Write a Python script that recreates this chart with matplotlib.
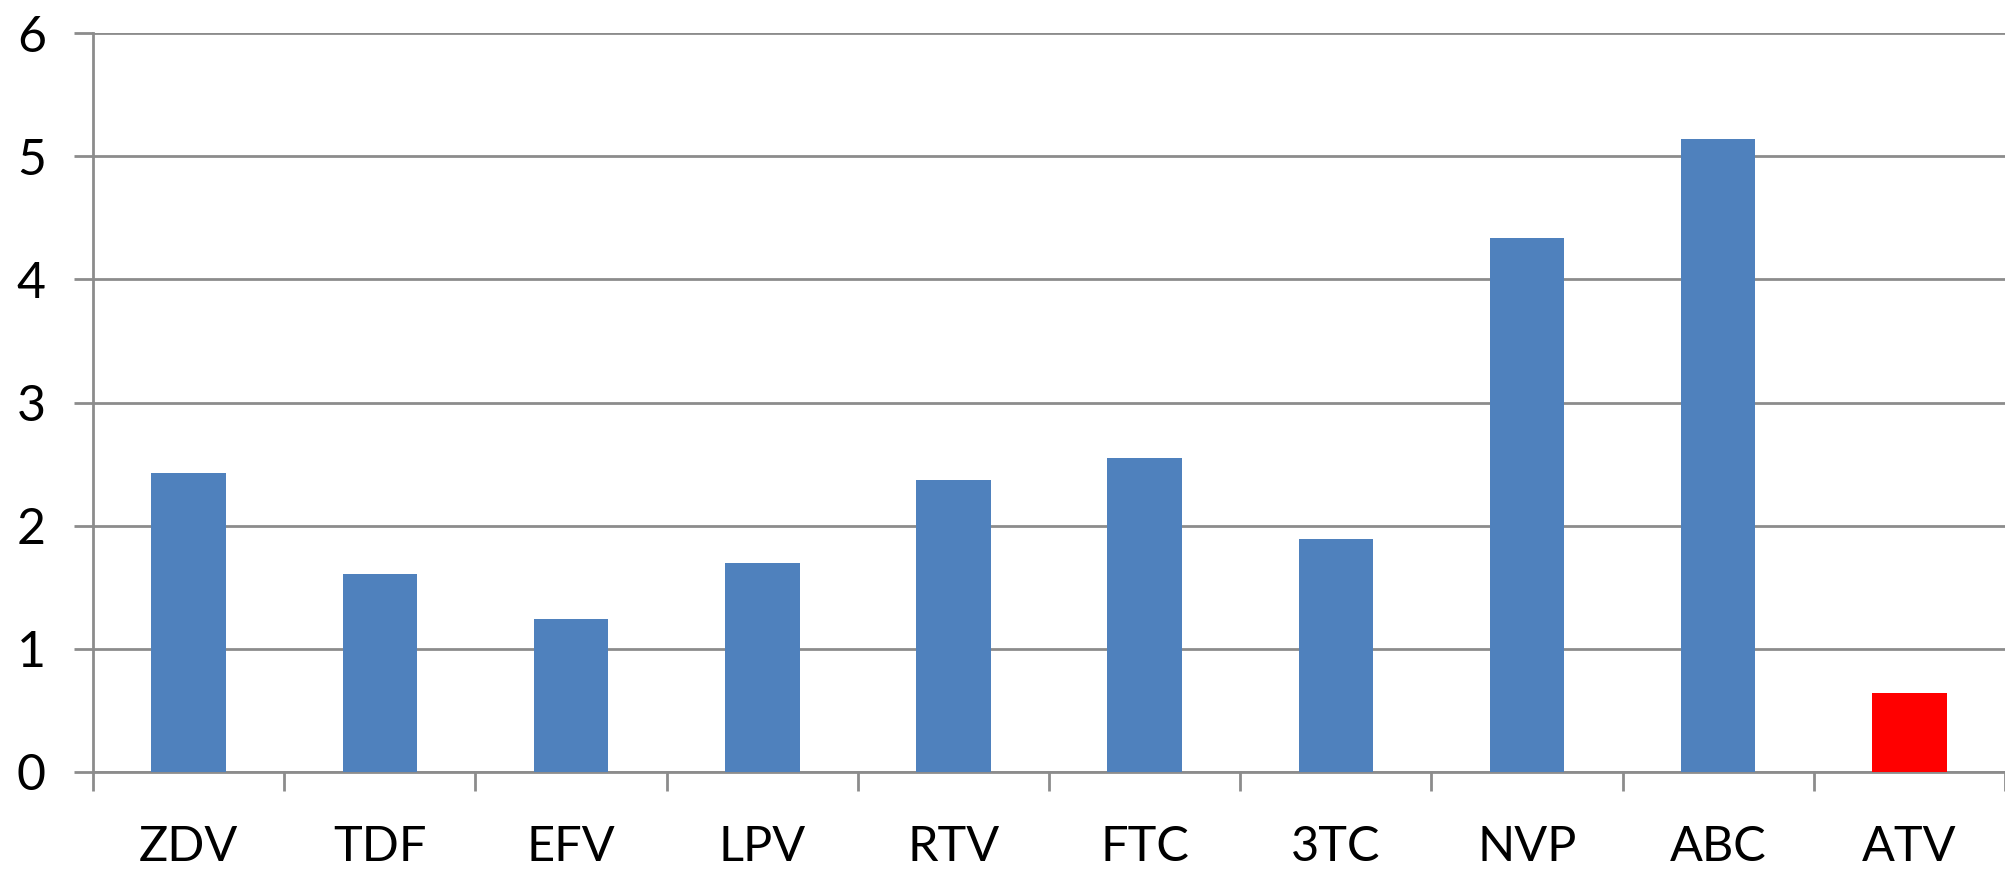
import matplotlib
matplotlib.use("Agg")
import numpy as np
import matplotlib.pyplot as plt

drugs = ["ZDV", "TDF", "EFV", "LPV", "RTV", "FTC", "3TC", "NVP", "ABC", "ATV"]
values = [2.43, 1.61, 1.24, 1.70, 2.37, 2.55, 1.89, 4.34, 5.14, 0.64]
bar_colors = ["#4F81BD"] * 9 + ["#FF0000"]

plt.rcParams['font.family'] = ['Lato', 'DejaVu Sans']
grid_col = "#8c8c8c"

fig = plt.figure(figsize=(20.05, 8.71), dpi=100)
ax = fig.add_axes([0.0464, 0.1137, 0.9536, 0.8483])

x = np.arange(len(drugs))
ax.bar(x, values, width=0.39, color=bar_colors, zorder=3)

ax.set_xlim(-0.5, len(drugs) - 0.5)
ax.set_ylim(0, 6)
ax.set_yticks(range(0, 7))
ax.yaxis.grid(True, color=grid_col, linewidth=2.0, zorder=0)

# category labels centred, tick marks on the boundaries
ax.set_xticks(x)
ax.set_xticklabels(drugs)
ax.set_xticks(np.arange(-0.5, len(drugs)), minor=True)
ax.tick_params(axis='x', which='major', length=0, pad=38, labelsize=35)
ax.tick_params(axis='x', which='minor', length=14, width=2.0, color=grid_col)
ax.tick_params(axis='y', length=14, width=2.0, color=grid_col, pad=20, labelsize=36)

for side in ["top", "right"]:
    ax.spines[side].set_visible(False)
for side in ["left", "bottom"]:
    ax.spines[side].set_color(grid_col)
    ax.spines[side].set_linewidth(2.0)

fig.savefig("out.png", dpi=100)
